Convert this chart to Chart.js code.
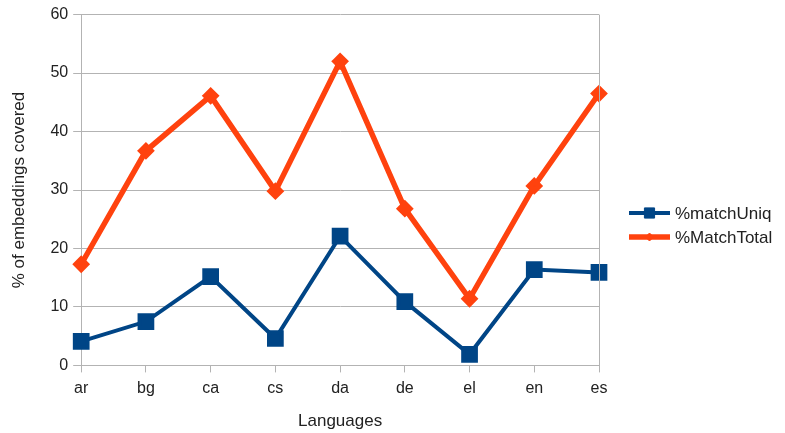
<!DOCTYPE html>
<html>
<head>
<meta charset="utf-8">
<script src="https://cdn.jsdelivr.net/npm/chart.js@4.4.0/dist/chart.umd.min.js"></script>
<style>
  html, body { margin: 0; padding: 0; background: #fff; }
</style>
</head>
<body>
<canvas id="myChart" width="785" height="433"></canvas>
<script>
const ctx = document.getElementById("myChart");
const COLOR = ["#004586", "#ff420e"];
const languages = ["ar", "bg", "ca", "cs", "da", "de", "el", "en", "es"];
const matchUniq = [4.1, 7.5, 15.2, 4.6, 22.1, 10.9, 1.9, 16.4, 15.9];
const matchTotal = [17.3, 36.7, 46.1, 29.8, 52.0, 26.8, 11.4, 30.7, 46.5];
const seriesNames = ["%matchUniq", "%MatchTotal"];

Chart.defaults.font.family = "'Liberation Sans', Arial, sans-serif";
Chart.defaults.font.size = 16;
Chart.defaults.color = "#222";

// legend drawn like LibreOffice: line with marker + label
const sideLegend = {
  id: "sideLegend",
  afterDraw(chart) {
    const c = chart.ctx;
    const area = chart.chartArea;
    // right border of the plot
    c.save();
    c.strokeStyle = "#b3b3b3";
    c.lineWidth = 1;
    c.beginPath();
    c.moveTo(area.right + 0.5, area.top);
    c.lineTo(area.right + 0.5, area.bottom);
    c.stroke();
    c.restore();

    chart.data.datasets.forEach((ds, i) => {
      const y = 213 + i * 24;
      const x0 = 629, x1 = 670;
      c.save();
      c.strokeStyle = ds.borderColor;
      c.lineWidth = ds.borderWidth;
      c.beginPath();
      c.moveTo(x0, y);
      c.lineTo(x1, y);
      c.stroke();
      c.fillStyle = ds.borderColor;
      c.lineWidth = 1;
      Chart.helpers.drawPoint(c, {
        pointStyle: ds.pointStyle,
        radius: ds.pointRadius * 0.8,
        borderWidth: 1,
      }, (x0 + x1) / 2, y);
      c.fillStyle = "#222";
      c.font = "17px 'Liberation Sans', Arial, sans-serif";
      c.textBaseline = "middle";
      c.fillText(ds.label, x1 + 5, y + 1);
      c.restore();
    });
  },
};

new Chart(ctx, {
  type: "line",
  data: {
    labels: languages,
    datasets: [
      {
        label: seriesNames[0],
        data: matchUniq,
        borderColor: COLOR[0],
        backgroundColor: COLOR[0],
        borderWidth: 4,
        pointStyle: "rect",
        pointRadius: 9,
        pointHoverRadius: 9,
      },
      {
        label: seriesNames[1],
        data: matchTotal,
        borderColor: COLOR[1],
        backgroundColor: COLOR[1],
        borderWidth: 5.5,
        pointStyle: "rectRot",
        pointRadius: 5,
        pointHoverRadius: 5,
      },
    ],
  },
  options: {
    responsive: false,
    animation: false,
    layout: { padding: { left: 9, right: 186, top: 8, bottom: 1 } },
    scales: {
      x: {
        offset: false,
        grid: {
          drawOnChartArea: false,
          color: "#b3b3b3",
          tickLength: 7,
        },
        border: { color: "#b3b3b3" },
        ticks: { padding: 7 },
        title: {
          display: true,
          text: "Languages",
          font: { size: 17 },
          padding: { top: 6, bottom: 0 },
        },
      },
      y: {
        min: 0,
        max: 60,
        ticks: { stepSize: 10, padding: 5 },
        grid: { color: "#b3b3b3", tickLength: 8 },
        border: { color: "#b3b3b3" },
        title: {
          display: true,
          text: "% of embeddings covered",
          font: { size: 17 },
          padding: { top: 0, bottom: 16 },
        },
      },
    },
    plugins: {
      legend: { display: false },
      tooltip: { enabled: false },
    },
  },
  plugins: [sideLegend],
});
</script>
</body>
</html>
